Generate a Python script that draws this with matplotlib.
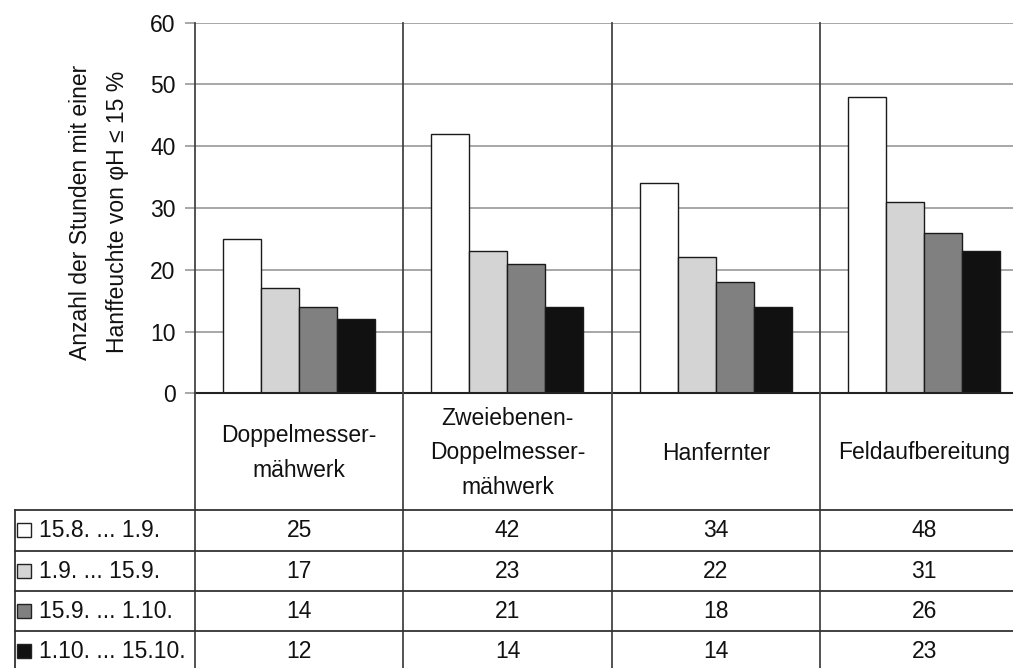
import matplotlib
matplotlib.use("Agg")
import matplotlib.pyplot as plt
from matplotlib.lines import Line2D
from matplotlib.patches import Rectangle

plt.rcParams["font.family"] = ["Liberation Sans", "DejaVu Sans"]
plt.rcParams["font.size"] = 16.5

# data
categories = ["Doppelmesser-\nmähwerk", "Zweiebenen-\nDoppelmesser-\nmähwerk",
              "Hanfernter", "Feldaufbereitung"]
periods = ["15.8. ... 1.9.", "1.9. ... 15.9.", "15.9. ... 1.10.", "1.10. ... 15.10."]
values = [
    [25, 42, 34, 48],
    [17, 23, 22, 31],
    [14, 21, 18, 26],
    [12, 14, 14, 23],
]
colors = ["#ffffff", "#d4d4d4", "#808080", "#111111"]
yticks = [0, 10, 20, 30, 40, 50, 60]

# figure geometry in pixels
W, H = 1013, 668
x0, y0, ytop = 195, 393.3, 22.7
gw = 208.33

fig = plt.figure(figsize=(W / 100, H / 100), dpi=100)
ax = fig.add_axes([x0 / W, 1 - y0 / H, 1 - x0 / W, (y0 - ytop) / H])
ax.set_xlim(0, (W - x0) / gw)
ax.set_ylim(0, 60)


def ay(py):
    """pixel row (from top) -> axes fraction"""
    return (y0 - py) / (y0 - ytop)


def fy(py):
    return 1 - py / H


bw = 38 / gw
for k, (vals, col) in enumerate(zip(values, colors)):
    xs = [i + 0.5 + (k - 1.5) * bw for i in range(len(categories))]
    ax.bar(xs, vals, width=bw, color=col, edgecolor="#1a1a1a", linewidth=1.0, zorder=3)

ax.set_yticks(yticks)
ax.set_xticks([])
ax.grid(axis="y", color="#a0a0a0", linewidth=1.3, zorder=0)
ax.tick_params(axis="y", length=7, width=1.3, color="#a0a0a0", pad=7,
               labelsize=16.5, labelcolor="#111111")
for s in ["top", "right", "left"]:
    ax.spines[s].set_visible(False)
ax.spines["bottom"].set_color("#222222")
ax.spines["bottom"].set_linewidth(1.5)
ax.spines["bottom"].set_zorder(4)

# vertical separators through chart and table
tr = ax.get_xaxis_transform()
for i in range(len(categories)):
    ax.add_line(Line2D([i, i], [ay(H + 5), 1], transform=tr, color="#444444",
                       linewidth=1.3, clip_on=False, zorder=5))

# header row with category names
for i, name in enumerate(categories):
    ax.text(i + 0.5, ay(453), name, transform=tr, ha="center", va="center",
            fontsize=16.5, linespacing=1.65, color="#111111")

# table rows
row_tops = [510, 551, 591, 631]
row_h = 40.5
for py in row_tops:
    fig.add_artist(Line2D([15 / W, 1], [fy(py), fy(py)], transform=fig.transFigure,
                          color="#333333", linewidth=1.3))
fig.add_artist(Line2D([15 / W, 15 / W], [fy(row_tops[0]), 0], transform=fig.transFigure,
                      color="#333333", linewidth=1.3))

for k, (per, vals, col) in enumerate(zip(periods, values, colors)):
    cy = row_tops[k] + row_h / 2
    sq = 14
    fig.add_artist(Rectangle((17 / W, fy(cy + sq / 2)), sq / W, sq / H,
                             transform=fig.transFigure, facecolor=col,
                             edgecolor="#222222", linewidth=1.0))
    fig.text(39 / W, fy(cy), per, ha="left", va="center", fontsize=16.5, color="#111111")
    for i, v in enumerate(vals):
        ax.text(i + 0.5, ay(cy), str(v), transform=tr, ha="center", va="center",
                fontsize=16.5, color="#111111")

fig.text(99 / W, fy(212), "Anzahl der Stunden mit einer\nHanffeuchte von φH ≤ 15 %",
         rotation=90, ha="center", va="center", multialignment="center",
         fontsize=16.5, linespacing=1.75, color="#111111")

fig.savefig("out.png", dpi=100)
